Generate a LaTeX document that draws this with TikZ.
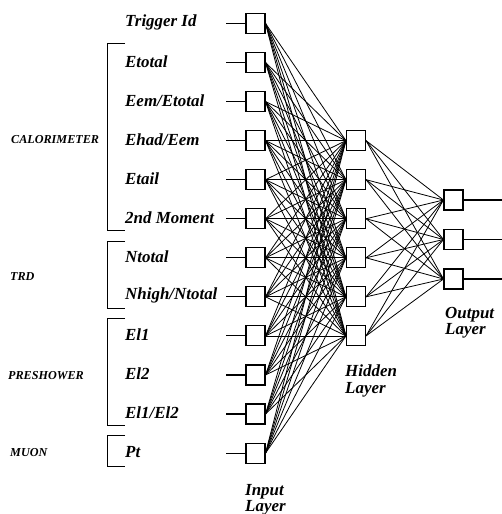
\documentclass[tikz,border=0pt]{standalone}
\usepackage{fontspec}
\setmainfont{Liberation Serif}
\begin{document}
\begin{tikzpicture}[x=1bp,y=-1bp,
  unit/.style={draw, line width=1.1bp, minimum width=19bp, minimum height=20bp, inner sep=0pt},
  inlabel/.style={anchor=west, inner sep=0pt, font=\fontsize{17}{17}\selectfont\bfseries\itshape},
  grouplabel/.style={anchor=west, inner sep=0pt, font=\fontsize{12.2}{12}\selectfont\bfseries\itshape},
  layerlabel/.style={anchor=north west, inner sep=0pt, align=left, font=\fontsize{17}{16.5}\selectfont\bfseries\itshape},
  wire/.style={line width=0.8bp},
  lead/.style={line width=1.1bp},
  bracket/.style={line width=1bp}]
\useasboundingbox (0,0) rectangle (502,514);

% input layer: one unit per variable
\foreach \k/\txt in {1/{Trigger Id}, 2/{Etotal}, 3/{Eem/Etotal}, 4/{Ehad/Eem}, 5/{Etail},
    6/{2nd Moment}, 7/{Ntotal}, 8/{Nhigh/Ntotal}, 9/{El1}, 10/{El2}, 11/{El1/El2}, 12/{Pt}} {
  \pgfmathsetmacro{\yy}{23.5+39.05*(\k-1)}
  \node[unit] (i\k) at (255.5,\yy) {};
  \coordinate (a\k) at (226,\yy);
  \draw[lead] (a\k) -- (i\k.west);
  \node[inlabel] (t\k) at (125,\yy-1) {\txt};
}

% hidden layer
\foreach \j in {1,...,6} {
  \pgfmathsetmacro{\yy}{23.5+39.05*(\j+2)}
  \node[unit] (h\j) at (356,\yy) {};
}

% output layer
\foreach \m/\yy in {1/200, 2/239.5, 3/279} {
  \node[unit] (o\m) at (453.5,\yy) {};
  \coordinate (e\m) at (502,\yy);
  \draw[lead] (o\m.east) -- (e\m);
}

% full connections
\foreach \k in {1,...,12} {
  \foreach \j in {1,...,6} {
    \draw[wire] (i\k.east) -- (h\j.west);
  }
}
\foreach \j in {1,...,6} {
  \foreach \m in {1,2,3} {
    \draw[wire] (h\j.east) -- (o\m.west);
  }
}

% detector groups
\draw[bracket] (125,44) -- (107,44) -- (107,230) -- (125,230);
\draw[bracket] (125,241) -- (107,241) -- (107,308) -- (125,308);
\draw[bracket] (125,318) -- (107,318) -- (107,425) -- (125,425);
\draw[bracket] (125,435) -- (107,435) -- (107,466) -- (125,466);
\node[grouplabel] (gcal) at (11,140) {CALORIMETER};
\node[grouplabel] (gtrd) at (10,277) {TRD};
\node[grouplabel] (gpre) at (8,376) {PRESHOWER};
\node[grouplabel] (gmuo) at (10,453) {MUON};

% layer names
\node[layerlabel] (lin) at (245,484) {Input\\Layer};
\node[layerlabel] (lhid) at (345,365) {Hidden\\Layer};
\node[layerlabel] (lout) at (445,307) {Output\\Layer};
\end{tikzpicture}
\end{document}
